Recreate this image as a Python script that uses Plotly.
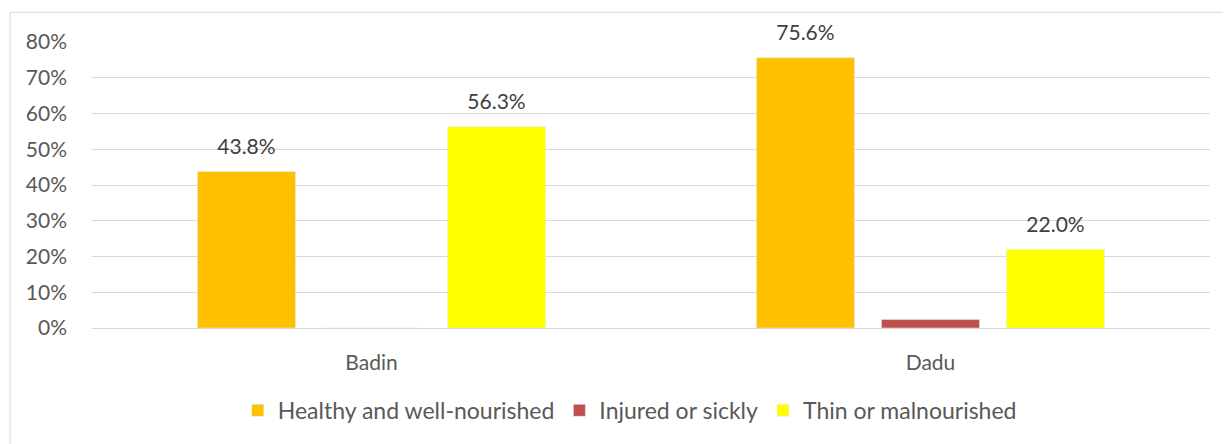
import plotly.graph_objects as go

districts = ["Badin", "Dadu"]
healthy = [0.438, 0.756]
injured = [0.0, 0.024]
thin = [0.563, 0.220]
series_names = ["Healthy and well-nourished", "Injured or sickly", "Thin or malnourished"]
colors = ["#FFC000", "#C0504D", "#FFFF00"]
show_labels = [True, False, True]
y_ticks = [0, 0.1, 0.2, 0.3, 0.4, 0.5, 0.6, 0.7, 0.8]

BAR_GAP = 0.329

fig = go.Figure()
for name, vals, col in zip(series_names, [healthy, injured, thin], colors):
    fig.add_trace(go.Bar(
        x=districts,
        y=vals,
        name=name,
        marker_color=col,
        hoverinfo="skip",
    ))

# value labels, grouped the same way as the bars so they sit above each one
for name, vals, lab in zip(series_names, [healthy, injured, thin], show_labels):
    fig.add_trace(go.Scatter(
        x=districts,
        y=vals,
        mode="markers+text",
        text=[f"{v * 100:.1f}%" if lab else "" for v in vals],
        textposition="top center",
        textfont=dict(size=21, color="#404040"),
        marker=dict(size=18, opacity=0),
        showlegend=False,
        cliponaxis=False,
        hoverinfo="skip",
    ))

fig.update_layout(
    width=1223,
    height=436,
    margin=dict(l=84, r=21, t=34, b=114),
    paper_bgcolor="white",
    plot_bgcolor="white",
    font=dict(family="Lato, Open Sans, sans-serif", size=21, color="#595959"),
    barmode="group",
    bargap=BAR_GAP,
    bargroupgap=0.216,
    scattermode="group",
    scattergap=BAR_GAP,
    showlegend=True,
    legend=dict(orientation="h", x=0.481, xanchor="center", y=-0.288, yanchor="middle",
                font=dict(size=23, color="#595959"), itemwidth=30),
    xaxis=dict(showgrid=False, ticks="", showline=False, ticklabelstandoff=20),
    yaxis=dict(range=[0, 0.8], tickvals=y_ticks, tickformat=".0%",
               gridcolor="#D9D9D9", zeroline=True, zerolinecolor="#D9D9D9",
               zerolinewidth=1, ticks="", ticklabelstandoff=24),
    shapes=[dict(type="rect", xref="paper", yref="paper",
                 x0=-0.0733, x1=1.04, y0=-0.45, y1=1.104,
                 line=dict(color="#D9D9D9", width=1), fillcolor="rgba(0,0,0,0)")],
)

fig.write_html("out.html")
